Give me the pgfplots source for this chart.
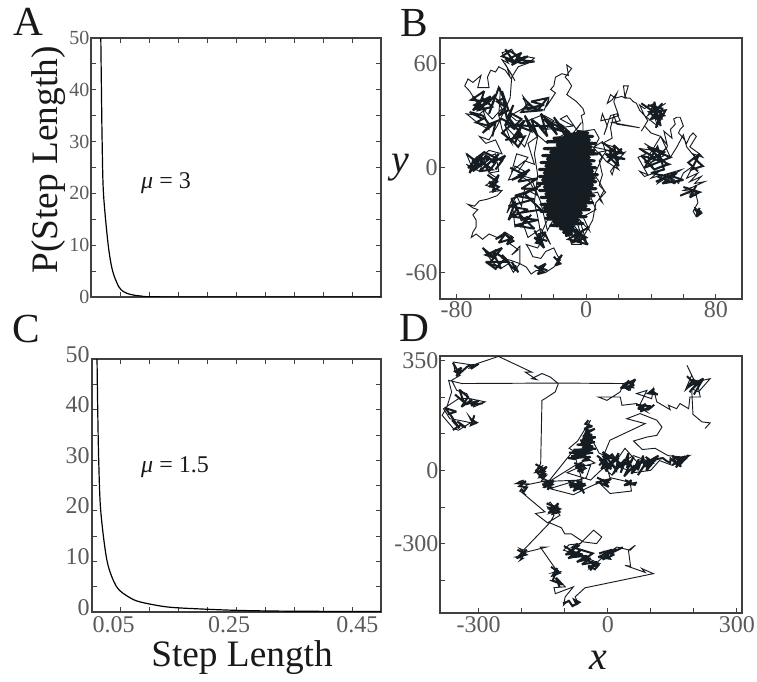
\documentclass[border=0pt]{standalone}
\usepackage{pgfplots}
\pgfplotsset{compat=1.18}
\usepackage{fontspec}
\setmainfont{Liberation Serif}
\definecolor{fr}{HTML}{404040}
\definecolor{tl}{HTML}{5A5A5A}
\definecolor{wk}{HTML}{151C22}
\newcommand\fs[1]{\fontsize{#1}{#1}\selectfont}
\newcommand\T[4]{\node[inner sep=0pt,text=black!90,#4] at ({#1*0.75pt},{(682-#2)*0.75pt}) {#3};}
\pgfplotsset{
 every axis/.append style={scale only axis, axis line style={fr,line width=1pt}, tick style={fr,line width=0.6pt},
   major tick length=3.5pt, minor tick length=3.5pt, tick align=inside, clip=true},
 walk/.style={wk,line width=0.7pt,no markers,line join=miter},
 core/.style={wk,line width=2.3pt,no markers,line join=round},
 mid/.style={wk,line width=1.5pt,no markers,line join=miter,miter limit=3},
 curve/.style={black,line width=0.9pt,no markers,smooth},
}
\begin{document}
\begin{tikzpicture}
\useasboundingbox (0,0) rectangle (567.75pt,511.5pt);
% ---------- A
\begin{axis}[at={(68.25pt,288.75pt)},anchor=south west,width=217.5pt,height=194.25pt,
 xmin=0,xmax=0.5,ymin=0,ymax=50,
 xtick={0.05,0.1,0.15,0.2,0.25,0.3,0.35,0.4,0.45},xticklabels={},
 ytick={0,10,20,30,40,50},yticklabels={0,10,20,30,40,50},minor ytick={5,15,25,35,45},
 yticklabel style={text=tl,font=\fs{15},inner sep=0pt,xshift=-1pt},
 xtick pos=both,ytick pos=both]
\addplot[curve] coordinates {(0.0169,50)(0.018,40)(0.0192,30)(0.0215,20)(0.0297,10)(0.0373,5)(0.0478,2)(0.0565,1)(0.068,0.5)(0.0856,0.2)(0.132,0.02)(0.5,0)};
\end{axis}
% ---------- C
\begin{axis}[at={(69pt,52.5pt)},anchor=south west,width=216.75pt,height=189.75pt,
 xmin=0,xmax=0.5,ymin=0,ymax=50,
 xtick={0.05,0.25,0.45},xticklabels={0.05,0.25,\hspace*{19pt}0.45},
 minor xtick={0.1,0.15,0.2,0.3,0.35,0.4},
 ytick={0,10,20,30,40,50},yticklabels={0,10,20,30,40,50},minor ytick={5,15,25,35,45},
 yticklabel style={text=tl,font=\fs{18},inner sep=0pt,xshift=-1.5pt,yshift=3.5pt},
 xticklabel style={text=tl,font=\fs{18},inner sep=0pt,xshift=-5.5pt,yshift=-3pt},
 xtick pos=both,ytick pos=both]
\addplot[curve] coordinates {(0.0087,50)(0.0099,40)(0.0116,30)(0.0151,20)(0.0262,10)(0.0425,5)(0.063,3)(0.083,2)(0.13,1)(0.188,0.6)(0.258,0.3)(0.35,0.15)(0.5,0.1)};
\end{axis}
% ---------- B
\begin{axis}[at={(330pt,287.25pt)},anchor=south west,width=226.5pt,height=195.75pt,
 xmin=-90.3,xmax=96.2,ymin=-75.3,ymax=74.5,
 xtick={-80,0,80},xticklabels={-80,0,80},minor xtick={-60,-40,-20,20,40,60},
 ytick={-60,0,60},yticklabels={-60,0,60},minor ytick={-30,30},
 yticklabel style={text=tl,font=\fs{18},inner sep=0pt,xshift=-1.5pt},
 xticklabel style={text=tl,font=\fs{18},inner sep=0pt,yshift=-2pt},
 xtick pos=left,ytick pos=left]
\addplot[walk] coordinates {(69,-28)(67,-23)(71,-25)(68,-28)(66,-25)(69,-20)(68,-16)(64,-15)(70,-14)(60,-13)(66,-11)(73,-8)(67,-9)(71,-5)(64,-8)(69,-3)(62,-6)(66,1)(60,-3)(57,-9)(52,-5)(59,-1)(48,-4)(54,-3)(44,-9)(47,-4)(40,-6)(45,-2)(36,-5)(33,-2)(38,-4)(32,6)(37,8)(33,11)(42,10)(36,14)(48,7)(40,3)(50,12)(44,5)(52,2)(42,-1)(38,6)(46,18)(50,13)(48,21)(53,17)(52,22)(55,25)(54,28)(56,29)(58,29)(60,24)(58,22)(57,20)(60,17)(62,14)(64,18)(66,20)(68,18)(66,15)(64,12)(67,10)(70,8)(72,6)(66,8)(69,4)(62,12)(60,19)(56,12)(52,6)(46,18)(40,20)(38,22)(36,24)(34,21)(38,27)(36,30)(33,36)(36,34)(42,37)(38,30)(49,37)(44,34)(47,28)(42,30)(44,24)(36,30)(33,33)(31,37)(29,38)(27,40)(25,40)(24,41)(26,47)(23,47)(24,40)(22,41)(18,40)(15,42)(13,37)(16,39)(19,43)(17,38)(20,30)(14,28)(9,27)(10,31)(13,24)(11,19)(15,30)(19,31)(21,27)(16,26)(33,23)(19,25)(17,30)(15,23)(16,17)(10,14)(17,12)(13,6)(24,9)(18,3)(22,7)(15,-2)(16,-4)(18,2)(20,-1)(12,4)(8,9)(14,10)(4,12)(10,6)(5,-4)(8,-8)(11,-13)(8,-18)(10,-20)(7,-14)(2,-15)(6,-24)(2,-26)(-2,-28)(2,-36)(-4,-30)(0,-42)(-8,-36)(-3,-44)(-9,-44)(-11,-38)(-3,-20)(2,15)(-2,20)(-2,25)(-3,30)(-1,31)(-2,34)(-4,36)(-6,38)(-9,40)(-12,42)(-9,47)(-11,50)(-13,52)(-9,57)(-12,59)(-11,53)(-15,54)(-17,53)(-19,52)(-20,47)(-22,45)(-19,43)(-24,36)(-23,40)(-26,33)(-32,35)(-36,33)(-39,41)(-35,36)(-41,33)(-47,30)(-43,27)(-36,27)(-28,30)(-22,27)(-14,24)(-20,22)(-12,20)(-24,14)(-34,22)(-38,12)(-44,18)(-50,24)(-46,14)(-52,22)(-54,30)(-53,45)(-50,36)(-56,40)(-52,34)(-58,28)(-63,33)(-67,30)(-74,31)(-66,25)(-60,22)(-64,34)(-68,38)(-72,44)(-75,47)(-73,51)(-70,49)(-65,53)(-67,46)(-60,46)(-61,52)(-59,56)(-56,55)(-54,58)(-50,56)(-47,52)(-49,58)(-44,50)(-47,55)(-52,62)(-48,60)(-52,66)(-46,68)(-42,62)(-38,64)(-32,63)(-36,60)(-42,58)(-46,52)(-47,40)(-55,24)(-60,16)(-66,18)(-62,14)(-56,16)(-52,8)(-60,10)(-68,4)(-74,8)(-70,-1)(-74,2)(-66,-2)(-62,6)(-56,8)(-54,-2)(-60,-3)(-55,-6)(-62,-10)(-56,-12)(-53,-13)(-60,-14)(-52,-13)(-55,-16)(-61,-18)(-66,-19)(-69,-22)(-73,-21)(-70,-23)(-67,-24)(-70,-27)(-68,-30)(-68,-34)(-70,-37)(-71,-40)(-68,-38)(-64,-41)(-60,-38)(-55,-40)(-50,-37)(-45,-40)(-48,-43)(-42,-47)(-46,-50)(-41,-45)(-41,-55)(-45,-60)(-48,-55)(-53,-58)(-58,-54)(-64,-46)(-60,-50)(-56,-47)(-52,-52)(-47,-53)(-41,-55)(-37,-57)(-34,-61)(-31,-59)(-28,-59)(-25,-60)(-20,-57)(-16,-53)(-18,-50)(-20,-46)(-25,-48)(-28,-52)(-33,-51)(-35,-47)(-37,-44)(-30,-46)(-25,-38)(-22,-44)(-28,-35)(-36,-40)(-39,-32)(-44,-34)(-46,-18)(-49,-26)(-43,-16)(-40,-22)(-38,-12)(-30,-16)(-35,-8)(-40,-5)(-48,-7)(-44,1)(-38,-2)(-42,-4)(-34,-6)(-28,-20)(-24,-36)(-18,-26)(-12,-34)(-4,-36)(-10,-20)};
\addplot[core] coordinates {(-6,21)(1,20)(-12,19)(4,18)(-20,17)(2,16)(-24,15)(6,14)(-18,13)(3,12)(-26,11)(5,10)(-22,9)(7,8)(-27,7)(2,6)(-24,5)(5,4)(-28,3)(3,2)(-25,1)(6,0)(-29,-1)(4,-2)(-26,-3)(7,-4)(-29,-5)(5,-6)(-27,-7)(6,-8)(-30,-9)(4,-10)(-26,-11)(6,-12)(-29,-13)(3,-14)(-25,-15)(5,-16)(-28,-17)(2,-18)(-24,-19)(4,-20)(-28,-21)(0,-22)(-26,-23)(2,-24)(-28,-25)(-3,-26)(-24,-27)(0,-28)(-25,-29)(-5,-30)(-20,-31)(-2,-32)(-22,-33)(-8,-34)(-16,-35)(-6,-36)(-14,-37)(-9,-38)(-13,-39)};
\addplot[mid] coordinates {(-50,26)(-44,22)(-48,29)(-40,19)(-45,17)(-38,27)(-42,24)(-34,21)(-38,30)(-30,18)(-34,28)(-26,22)(-31,26)(-24,18)(-28,31)(-20,24)(-26,28)(-18,19)(-22,26)(-14,22)(-20,29)(-12,17)(-16,25)(-10,20)(-24,24)(-36,24)(-46,25)(-52,20)(-44,14)(-40,24)(-46,16)(-42,12)(-38,18)(-50,16)};
\addplot[mid] coordinates {(-70,41)(-62,33)(-69,36)(-59,41)(-66,34)(-60,38)(-71,39)(-63,44)(-67,33)(-58,35)(-64,40)(-70,33)(-61,37)(-56,42)(-60,31)(-54,46)(-51,40)(-55,38)(-50,35)(-54,30)(-48,33)(-52,44)(-49,28)(-45,36)(-50,24)(-46,31)(-40,28)(-44,24)(-52,28)(-60,25)(-64,30)(-72,32)(-64,28)(-68,26)(-60,24)(-64,20)(-56,26)(-58,18)};
\addplot[mid] coordinates {(-74,8)(-66,2)(-73,0)(-64,8)(-70,-2)(-60,5)(-68,6)(-58,-1)(-66,-2)(-56,6)(-62,1)(-54,8)(-58,3)(-50,7)(-56,-1)(-52,4)(-63,9)(-70,4)(-72,-3)(-66,6)(-60,-2)(-56,3)(-62,7)(-68,-1)};
\addplot[mid] coordinates {(-61,-4)(-55,-8)(-60,-11)(-54,-4)(-58,-14)(-54,-11)(-60,-8)(-56,-13)};
\addplot[mid] coordinates {(-47,0)(-38,-4)(-46,-7)(-35,-1)(-42,-8)(-30,-6)(-40,-12)(-30,-12)(-44,-16)(-32,-18)(-48,-22)(-36,-24)(-46,-28)(-30,-30)(-44,-33)(-32,-35)(-42,-26)(-28,-24)(-38,-15)(-28,-10)(-46,-18)(-43,-24)(-48,-30)(-44,-20)(-40,-30)(-36,-28)(-41,-34)(-34,-27)};
\addplot[mid] coordinates {(-64,-46)(-56,-52)(-62,-50)(-52,-46)(-60,-55)(-53,-57)(-58,-48)(-50,-52)(-56,-58)(-62,-54)(-48,-54)(-52,-50)(-46,-57)(-43,-59)(-46,-54)(-42,-60)(-44,-56)};
\addplot[mid] coordinates {(-56,-41)(-50,-38)(-54,-43)(-47,-41)(-51,-37)(-45,-42)(-49,-44)(-46,-39)};
\addplot[mid] coordinates {(-32,-36)(-27,-44)(-31,-43)(-25,-37)(-29,-38)(-26,-46)(-32,-40)(-24,-42)};
\addplot[mid] coordinates {(-32,-56)(-26,-60)(-30,-61)(-25,-55)(-29,-57)(-24,-59)};
\addplot[mid] coordinates {(-20,-51)(-16,-55)(-19,-56)(-15,-50)(-18,-53)};
\addplot[mid] coordinates {(-10,-34)(0,-40)(-9,-43)(-2,-36)(-11,-41)(1,-44)(-6,-36)(-3,-43)(-8,-39)(2,-34)};
\addplot[mid] coordinates {(-50,68)(-44,60)(-49,62)(-40,66)(-46,59)(-36,64)(-43,62)(-32,61)(-40,60)(-52,64)(-47,67)(-42,64)(-36,60)};
\addplot[mid] coordinates {(-39,40)(-32,34)(-38,34)(-26,36)(-34,38)(-24,40)(-30,33)(-36,37)(-40,32)(-27,33)};
\addplot[mid] coordinates {(34,37)(42,32)(47,37)(40,28)(48,30)(41,35)(46,24)(42,38)(45,27)(39,32)(49,33)(43,23)(47,34)(38,36)};
\addplot[mid] coordinates {(33,11)(42,6)(36,3)(48,9)(38,12)(50,2)(42,-1)(34,7)(46,4)(40,11)(52,6)(36,0)(44,12)(48,-1)(40,-3)(50,-5)(43,-8)(56,-3)(47,-9)(60,-7)(50,-4)(55,-9)(44,-5)};
\addplot[mid] coordinates {(11,14)(18,9)(13,3)(22,11)(15,6)(24,5)(12,8)(20,1)(17,13)(23,8)(14,10)(19,4)};
\addplot[mid] coordinates {(66,6)(72,1)(65,-1)(70,8)(63,3)(69,-2)};
\addplot[mid] coordinates {(58,-16)(66,-13)(60,-11)(70,-14)(64,-17)(68,-10)};
\addplot[mid] coordinates {(67,-24)(71,-26)(68,-28)(70,-23)};
\addplot[walk] coordinates {(-26,30)(-20,27)(-25,22)(-8,24)(-16,28)(-12,30)(-6,22)(-3,26)(-8,20)(5,22)(8,17)(5,12)(10,15)(12,9)(8,4)(10,-4)(8,-10)(12,-14)(6,-20)(4,-30)(-2,-40)(-10,-30)(-24,-30)(-28,-38)(-30,-28)(-32,-20)(-30,-4)(-32,8)(-30,18)(-36,14)(-32,2)(-38,4)(-46,-2)(-43,8)(-36,6)(-42,-2)};
\end{axis}
% ---------- D
\begin{axis}[at={(330pt,51.75pt)},anchor=south west,width=226.5pt,height=192.75pt,
 xmin=-390,xmax=312,ymin=-584,ymax=467.7,
 xtick={-300,0,300},xticklabels={-300,0,300},minor xtick={-200,-100,100,200},
 ytick={-300,0,450},yticklabels={-300,0,350},minor ytick={-450,-150,150,300},
 yticklabel style={text=tl,font=\fs{18},inner sep=0pt,xshift=-1pt},
 xticklabel style={text=tl,font=\fs{18},inner sep=0pt,yshift=-2.5pt},
 xtick pos=left,ytick pos=left]
\addplot[walk] coordinates {(226,171)(238,194)(219,198)(198,229)(195,334)(211,321)(238,375)(203,361)(184,430)(195,389)(180,327)(207,368)(215,300)(191,300)(188,252)(168,273)(160,252)(141,266)(145,248)(114,280)(106,334)(102,293)(67,314)(91,327)(71,256)(91,239)(67,273)(33,266)(29,300)(-22,300)(-2,286)(29,321)(36,355)(60,368)(52,327)(33,341)(36,355)(-115,357)(-339,355)(-370,368)(-363,321)(-374,259)(-385,225)(-359,171)(-347,164)(-316,198)(-324,225)(-308,191)(-347,205)(-367,211)(-382,252)(-347,293)(-320,293)(-285,280)(-312,259)(-328,314)(-351,327)(-363,368)(-343,389)(-355,402)(-359,443)(-312,430)(-324,416)(-305,436)(-254,466)(-177,402)(-192,402)(-165,371)(-177,375)(-153,396)(-134,382)(-115,355)(-122,321)(-146,293)(-153,286)(-156,27)(-165,5)(-150,20)(-170,-10)(-145,-5)(-160,-30)(-142,-20)(-155,-45)(-130,-50)(-148,-35)(-128,-60)(-150,-70)(-135,-40)(-190,-60)(-205,-45)(-195,-40)(-215,-55)(-185,-55)(-195,-75)(-205,-85)(-190,-100)(-200,-90)(-146,-170)(-168,-177)(-140,-215)(-111,-184)(-134,-130)(-140,-140)(-115,-150)(-135,-175)(-120,-165)(-140,-150)(-125,-185)(-135,-215)(-196,-327)(-205,-320)(-190,-345)(-215,-355)(-196,-360)(-205,-370)(-190,-335)(-142,-314)(-157,-314)(-122,-402)(-115,-410)(-130,-420)(-110,-415)(-126,-436)(-115,-455)(-135,-450)(-105,-465)(-99,-477)(-125,-480)(-122,-505)(-80,-477)(-99,-518)(-103,-552)(-91,-532)(-84,-552)(-68,-546)(-76,-518)(-53,-481)(106,-423)(79,-402)(87,-418)(40,-389)(53,-393)(48,-327)(64,-307)(52,-327)(21,-314)(-2,-341)(-41,-402)(-18,-382)(-60,-350)(-103,-327)(-90,-305)(-64,-300)(-33,-245)(-14,-273)(-26,-300)(-57,-293)(-85,-260)(-100,-260)(-108,-235)(-135,-215)};
\addplot[walk] coordinates {(-135,-40)(-95,48)(-80,80)(-60,-40)(-135,-45)(-76,20)(-40,20)(-50,-30)(-135,-75)(-80,-100)(-45,-70)(-20,-50)(5,-95)(55,-85)(52,-50)(30,-40)(5,-30)(-10,60)(5,123)(87,191)(44,211)(75,232)(114,205)(126,177)(114,143)(91,136)(60,120)(80,85)(110,90)(140,60)(170,55)(190,60)(150,20)(120,40)(100,0)(60,-10)(70,30)(40,90)(20,40)(-20,70)(-50,170)(-40,205)(-70,120)(-90,90)(-60,60)(-30,30)(-70,10)(-95,-10)(-40,-40)(-10,10)(10,-20)(30,30)(60,60)(90,40)(50,0)(-10,30)};
\addplot[mid] coordinates {(-45,205)(-52,190)(-36,180)(-55,170)(-42,162)(-30,170)(-50,150)(-36,145)(-58,140)(-28,135)(-48,125)(-64,122)(-30,115)(-52,108)(-72,105)(-34,98)(-60,92)(-28,88)(-80,84)(-44,78)(-90,72)(-56,68)(-34,72)(-85,58)(-50,60)(-78,46)(-92,50)(-65,52)(-40,55)(-60,38)(-44,42)(-70,70)(-50,95)(-40,120)(-60,115)(-48,170)(-38,130)(-54,130)(-40,100)(-62,80)(-36,85)(-70,60)(-46,110)};
\addplot[mid] coordinates {(-25,60)(-10,40)(-20,20)(0,60)(-15,5)(10,30)(-5,-5)(15,50)(5,10)(25,70)(20,0)(-12,75)(28,30)(12,-15)(40,45)(30,-10)(48,70)(45,10)(60,55)(38,-25)(62,20)(55,-15)(72,45)(70,0)(82,60)(85,20)(70,-20)(95,50)(90,-2)(108,40)(100,20)(78,35)(60,-5)(50,35)(30,15)(10,65)(-15,30)(8,5)(-10,55)(22,45)(0,15)(-20,45)(-5,25)(15,20)(-8,10)(12,40)};
\addplot[mid] coordinates {(88,55)(105,30)(84,15)(112,42)(92,28)(118,60)(100,42)(128,50)(135,40)(145,30)(146,48)(160,25)(150,60)(172,35)(158,12)(180,58)(166,20)(188,62)(174,45)(150,22)(184,50)(160,50)(170,15)(152,40)};
\addplot[mid] coordinates {(-92,-45)(-70,-60)(-88,-70)(-60,-45)(-80,-85)(-54,-62)(-72,-40)(-62,-80)(-90,-58)(-52,-55)(-78,-75)(-66,-50)(-55,-95)};
\addplot[mid] coordinates {(-78,30)(-62,18)(-75,8)(-55,25)(-70,-5)(-52,8)(-66,30)(-58,-12)(-74,18)(-56,-2)(-68,10)(-60,34)};
\addplot[mid] coordinates {(-168,25)(-148,5)(-165,-10)(-142,15)(-160,-30)(-146,-15)(-168,0)(-150,-38)(-158,18)(-145,-25)};
\addplot[mid] coordinates {(-150,-45)(-130,-58)(-148,-70)(-126,-42)(-140,-80)(-132,-52)(-152,-58)(-128,-72)};
\addplot[mid] coordinates {(-142,-135)(-112,-158)(-138,-175)(-115,-135)(-128,-178)(-110,-170)(-140,-155)(-120,-148)};
\addplot[mid] coordinates {(-102,-310)(-72,-340)(-98,-345)(-65,-305)(-88,-330)(-58,-345)(-92,-360)(-62,-325)(-80,-355)(-48,-350)(-72,-375)(-40,-360)(-60,-385)(-25,-375)(-45,-400)(-20,-385)(-55,-365)(-35,-340)(-82,-315)(-70,-300)};
\addplot[mid] coordinates {(-20,-340)(10,-325)(-12,-365)(15,-345)(-5,-335)(5,-362)(-22,-355)(20,-322)(-8,-350)(35,-315)(12,-335)};
\addplot[mid] coordinates {(-210,-325)(-190,-345)(-206,-352)(-188,-325)(-200,-340)(-212,-360)(-198,-350)};
\addplot[mid] coordinates {(-355,310)(-335,280)(-345,330)(-325,300)(-340,260)(-315,290)(-330,270)(-300,285)(-318,265)(-290,275)};
\addplot[mid] coordinates {(-360,440)(-345,395)(-355,405)(-340,420)(-352,385)(-342,400)(-326,425)(-310,432)(-318,415)(-300,436)};
\addplot[mid] coordinates {(-132,-395)(-112,-420)(-128,-430)(-118,-400)(-128,-452)(-105,-468)(-120,-440)(-112,-478)};
\addplot[mid] coordinates {(-104,-545)(-90,-535)(-82,-556)(-66,-540)(-78,-530)(-72,-552)};
\addplot[mid] coordinates {(42,350)(64,372)(48,330)(36,345)(58,340)(48,365)(30,335)(62,350)};
\addplot[mid] coordinates {(66,268)(100,262)(76,240)(88,272)(70,252)(94,248)(108,268)};
\addplot[mid] coordinates {(184,385)(205,350)(190,320)(212,360)(198,370)(185,340)(222,375)(200,310)};
\addplot[mid] coordinates {(-362,205)(-345,172)(-365,225)(-378,255)(-352,240)(-372,230)};
\addplot[mid] coordinates {(100,325)(116,310)(94,315)(108,335)};
\addplot[mid] coordinates {(-25,-30)(0,-50)(-15,-60)(8,-35)(-22,-48)(2,-68)(-10,-40)(-28,-55)};
\addplot[mid] coordinates {(40,-40)(65,-60)(48,-55)(55,-40)(38,-62)(68,-50)};
\addplot[mid] coordinates {(-360,165)(-342,185)(-330,175)(-350,200)};
\addplot[mid] coordinates {(-320,210)(-305,195)(-318,185)(-310,225)};
\addplot[mid] coordinates {(-210,-55)(-190,-45)(-205,-65)(-188,-70)(-196,-90)(-202,-75)};
\addplot[mid] coordinates {(-20,-385)(-30,-405)(-45,-390)(-38,-410)};
\end{axis}
% ---------- text
\T{28}{22}{\fs{31}A}{}
\T{414}{23}{\fs{31}B}{}
\T{26}{329}{\fs{31}C}{}
\T{414}{328}{\fs{31}D}{}
\T{49}{160}{\fs{28}P(Step Length)}{rotate=90}
\T{242}{658}{\fs{28}Step Length}{}
\T{400}{168}{\fs{30}\itshape y}{}
\T{598}{660}{\fs{30}\itshape x}{}
\T{166}{183}{\fs{18}{\itshape μ} = 3}{}
\T{175}{467}{\fs{18}{\itshape μ} = 1.5}{}
\end{tikzpicture}
\end{document}
